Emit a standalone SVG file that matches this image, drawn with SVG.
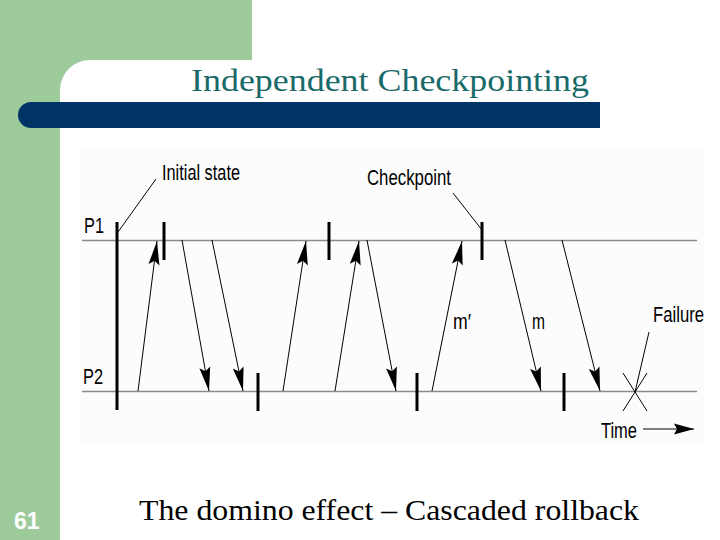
<svg xmlns="http://www.w3.org/2000/svg" width="720" height="540" viewBox="0 0 720 540">
<style>
.tl{stroke:#8a8a8a;stroke-width:1.6;fill:none}
.ck{stroke:#000;stroke-width:3;fill:none}
.msg{stroke:#000;stroke-width:1;fill:none}
.thin{stroke:#000;stroke-width:1;fill:none}
.lbl{font-family:"Liberation Sans",Arial,sans-serif;font-size:22px;fill:#000}
.serif{font-family:"Liberation Serif","Times New Roman",serif}
</style>
<defs>
<marker id="ah" markerUnits="userSpaceOnUse" markerWidth="26" markerHeight="14" refX="24" refY="6" orient="auto">
<path d="M0,0.5 L24,6 L0,11.5 L4,6 z" fill="#000"/>
</marker>
<marker id="ah2" markerUnits="userSpaceOnUse" markerWidth="22" markerHeight="14" refX="20" refY="6" orient="auto">
<path d="M0,0.5 L20,6 L0,11.5 L3,6 z" fill="#000"/>
</marker>
</defs>
<rect width="720" height="540" fill="#fff"/>
<rect x="0" y="0" width="252" height="60" fill="#9dcb9b"/>
<rect x="0" y="0" width="60" height="540" fill="#9dcb9b"/>
<path d="M60,60 L90,60 A30,30 0 0 0 60,90 z" fill="#9dcb9b"/>
<rect x="18" y="102" width="600" height="26" rx="13" fill="#003366"/>
<rect x="600" y="100" width="120" height="30" fill="#fff"/>
<text class="serif" x="191" y="91" font-size="32" fill="#1a6a6a" textLength="398" lengthAdjust="spacingAndGlyphs">Independent Checkpointing</text>
<text x="14" y="529" font-family="'Liberation Sans',Arial,sans-serif" font-size="23" font-weight="bold" fill="#fff">61</text>
<text class="serif" x="139" y="520" font-size="29" fill="#000" textLength="500" lengthAdjust="spacingAndGlyphs">The domino effect – Cascaded rollback</text>
<rect x="80" y="150" width="625" height="295" fill="#fcfcfc"/>
<g id="timelines">
<line class="tl" x1="82" y1="240.5" x2="697" y2="240.5"/>
<line class="tl" x1="82" y1="391.5" x2="697" y2="391.5"/>
</g>
<g id="initial"><line class="ck" x1="117" y1="222" x2="117" y2="410"/></g>
<g id="ck1"><line class="ck" x1="164" y1="222" x2="164" y2="260"/></g>
<g id="ck2"><line class="ck" x1="329" y1="222" x2="329" y2="260"/></g>
<g id="ck3"><line class="ck" x1="482" y1="222" x2="482" y2="260"/></g>
<g id="ck4"><line class="ck" x1="258" y1="373" x2="258" y2="411"/></g>
<g id="ck5"><line class="ck" x1="417" y1="373" x2="417" y2="411"/></g>
<g id="ck6"><line class="ck" x1="564" y1="373" x2="564" y2="411"/></g>
<g id="failure">
<line class="thin" x1="623" y1="373" x2="647" y2="411"/>
<line class="thin" x1="647" y1="373" x2="623" y2="411"/>
</g>
<g id="connectors">
<line class="msg" x1="138" y1="391" x2="157" y2="241" marker-end="url(#ah)"/>
<line class="msg" x1="182" y1="240" x2="209" y2="391" marker-end="url(#ah)"/>
<line class="msg" x1="212" y1="240" x2="243" y2="391" marker-end="url(#ah)"/>
<line class="msg" x1="283" y1="391" x2="306" y2="241" marker-end="url(#ah)"/>
<line class="msg" x1="335" y1="391" x2="359" y2="241" marker-end="url(#ah)"/>
<line class="msg" x1="367" y1="240" x2="396" y2="391" marker-end="url(#ah)"/>
<line class="msg" x1="432" y1="391" x2="462" y2="241" marker-end="url(#ah)"/>
<line class="msg" x1="505" y1="240" x2="541" y2="391" marker-end="url(#ah)"/>
<line class="msg" x1="562" y1="240" x2="600" y2="391" marker-end="url(#ah)"/>
<line class="thin" x1="118" y1="232" x2="156" y2="179"/>
<line class="thin" x1="453" y1="193" x2="482" y2="230"/>
<line class="thin" x1="649" y1="332" x2="635" y2="392"/>
<line class="msg" x1="643" y1="429" x2="694" y2="429" stroke-width="1.5" marker-end="url(#ah2)"/>
</g>
<g id="labels">
<text class="lbl" x="162" y="180" textLength="78" lengthAdjust="spacingAndGlyphs">Initial state</text>
<text class="lbl" x="367" y="185" textLength="84" lengthAdjust="spacingAndGlyphs">Checkpoint</text>
<text class="lbl" x="84" y="233" textLength="20" lengthAdjust="spacingAndGlyphs">P1</text>
<text class="lbl" x="83" y="384" textLength="20" lengthAdjust="spacingAndGlyphs">P2</text>
<text class="lbl" x="453" y="329" textLength="18" lengthAdjust="spacingAndGlyphs">m′</text>
<text class="lbl" x="532" y="329" textLength="13" lengthAdjust="spacingAndGlyphs">m</text>
<text class="lbl" x="653" y="322" textLength="51" lengthAdjust="spacingAndGlyphs">Failure</text>
<text class="lbl" x="601" y="438" textLength="36" lengthAdjust="spacingAndGlyphs">Time</text>
</g>
</svg>
